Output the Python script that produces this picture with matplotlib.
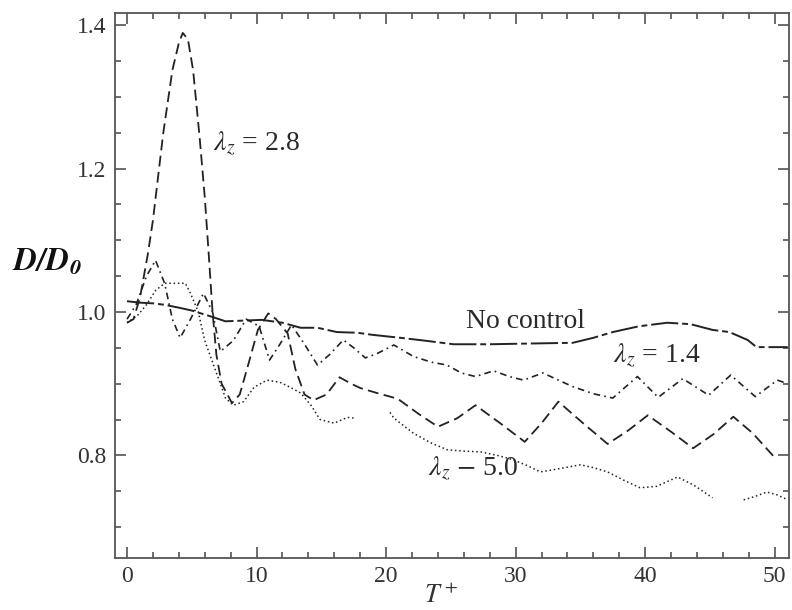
import numpy as np
import matplotlib.pyplot as plt
from matplotlib.ticker import MultipleLocator

plt.rcParams['font.family'] = ['Liberation Serif', 'DejaVu Serif']
plt.rcParams['mathtext.fontset'] = 'stix'

# values
x_noctrl = [0, 1, 2, 2.9, 4, 5, 6.6, 7.6, 9, 10.4, 12, 13.4, 14.7, 16.2, 17.8, 19, 21.1, 23,
            25.2, 28, 31, 34.4, 36, 37.5, 39.5, 41.7, 43.5, 45.2, 46.5, 47.9, 48.6, 51]
y_noctrl = [1.015, 1.013, 1.012, 1.01, 1.006, 1.002, 0.993, 0.987, 0.988, 0.989, 0.985, 0.978,
            0.978, 0.972, 0.971, 0.968, 0.964, 0.96, 0.955, 0.955, 0.956, 0.957, 0.964, 0.972,
            0.98, 0.985, 0.983, 0.975, 0.972, 0.961, 0.951, 0.951]

x_14 = [0, 0.7, 1.5, 2.2, 2.9, 3.5, 4.1, 4.9, 5.9, 6.6, 7.2, 8.2, 9.2, 10.2, 11.0, 11.8, 12.7,
        13.7, 14.7, 15.6, 16.7, 17.5, 18.4, 19.3, 20.6, 22.1, 23.5, 24.7, 25.8, 26.9, 28.3, 29.5,
        30.6, 32.1, 33.3, 34.4, 36, 37.5, 39.4, 41.0, 42.9, 44.9, 46.6, 48.5, 50.2, 51]
y_14 = [0.99, 1.01, 1.05, 1.072, 1.04, 0.99, 0.964, 0.99, 1.026, 1.0, 0.945, 0.96, 0.99, 0.98,
        0.933, 0.955, 0.982, 0.955, 0.926, 0.94, 0.961, 0.95, 0.936, 0.942, 0.954, 0.938, 0.93,
        0.926, 0.915, 0.91, 0.918, 0.91, 0.905, 0.915, 0.905, 0.896, 0.886, 0.88, 0.91, 0.881,
        0.907, 0.884, 0.912, 0.882, 0.905, 0.9]

x_28 = [0, 0.5, 1.0, 1.6, 2.0, 2.8, 3.5, 4.0, 4.3, 4.7, 5.1, 5.6, 6.0, 6.3, 6.6, 6.9, 7.3, 8.1,
        8.7, 9.3, 10.1, 10.9, 11.5, 12.4, 13.0, 13.7, 14.4, 15.4, 16.4, 17.3, 18.0, 19.3, 20.9,
        22.5, 24.0, 25.5, 26.9, 28.8, 30.7, 32.0, 33.3, 35.2, 37.1, 38.7, 40.2, 42.0, 43.7, 45.3,
        46.8, 48.3, 50.0]
y_28 = [0.985, 0.99, 1.02, 1.08, 1.128, 1.25, 1.337, 1.375, 1.389, 1.38, 1.337, 1.244, 1.16,
        1.082, 1.0, 0.94, 0.9, 0.873, 0.885, 0.923, 0.975, 0.998, 0.99, 0.97, 0.92, 0.885, 0.877,
        0.885, 0.909, 0.9, 0.894, 0.887, 0.879, 0.858, 0.84, 0.852, 0.87, 0.845, 0.819, 0.845,
        0.875, 0.845, 0.816, 0.835, 0.856, 0.833, 0.81, 0.83, 0.854, 0.831, 0.797]

x_50 = [0, 0.8, 1.5, 2.2, 2.9, 3.5, 4.5, 4.9, 5.5, 6.0, 6.8, 7.6, 8.2, 9.0, 9.8, 10.8, 11.8,
        12.6, 13.4, 14.2, 14.9, 16.0, 17.0, 17.6, np.nan, 20.3, 20.6, 22.1, 23.4, 24.7, 26.0,
        27.3, 28.6, 29.8, 31.0, 31.9, 33.5, 35.0, 36.0, 37.1, 38.4, 39.6, 40.9, 42.5, 43.8, 45.2,
        np.nan, 47.6, 48.5, 49.4, 50.2, 51]
y_50 = [0.985, 0.995, 1.01, 1.03, 1.04, 1.04, 1.04, 1.026, 1.0, 0.96, 0.92, 0.88, 0.87, 0.875,
        0.895, 0.905, 0.902, 0.895, 0.887, 0.87, 0.85, 0.845, 0.853, 0.852, np.nan, 0.86, 0.852,
        0.831, 0.818, 0.808, 0.806, 0.805, 0.8, 0.794, 0.785, 0.777, 0.782, 0.787, 0.783, 0.777,
        0.765, 0.755, 0.757, 0.77, 0.758, 0.741, np.nan, 0.738, 0.743, 0.749, 0.745, 0.738]

fig = plt.figure(figsize=(7.92, 6.10), dpi=100)
ax = fig.add_axes([0.1452, 0.0852, 0.851, 0.8934])

c = '#222222'
ax.plot(x_noctrl, y_noctrl, color=c, lw=1.4, linestyle=(0, (14, 2, 3, 2)))
ax.plot(x_14, y_14, color=c, lw=1.2, linestyle=(0, (4, 2.5, 1, 2.5)))
ax.plot(x_28, y_28, color=c, lw=1.3, linestyle=(0, (6, 3)))
ax.plot(x_50, y_50, color=c, lw=1.1, linestyle=(0, (1, 1.8)))

ax.set_xlim(-0.93, 51.1)
ax.set_ylim(0.657, 1.4167)

ax.xaxis.set_major_locator(MultipleLocator(10))
ax.xaxis.set_minor_locator(MultipleLocator(2))
ax.yaxis.set_major_locator(MultipleLocator(0.2))
ax.yaxis.set_minor_locator(MultipleLocator(0.05))
ax.tick_params(which='both', direction='in', top=True, right=True, color='#444444', width=1.1)
ax.tick_params(which='major', length=8, labelsize=17, labelcolor='#333333', pad=6)
ax.tick_params(which='minor', length=4.5)
for s in ax.spines.values():
    s.set_color('#555555')
    s.set_linewidth(1.3)

tkw = dict(fontsize=20, color='#2a2a2a', va='center', ha='left')
ax.text(6.64, 1.236, r'$\lambda_z$ = 2.8', **tkw)
ax.text(26.2, 0.987, 'No control', **tkw)
ax.text(37.5, 0.94, r'$\lambda_z$ = 1.4', **tkw)
ax.text(23.2, 0.783, r'$\lambda_z$ $-$ 5.0', **tkw)

fig.text(12 / 792, 0.57, r'$\mathbfit{D/D_0}$', fontsize=23, ha='left', va='center', color='#111111')
fig.text(441 / 792, 0.003, r'$T^+$', fontsize=19, ha='center', va='bottom', color='#333333')

fig.savefig('out.png', dpi=100)
